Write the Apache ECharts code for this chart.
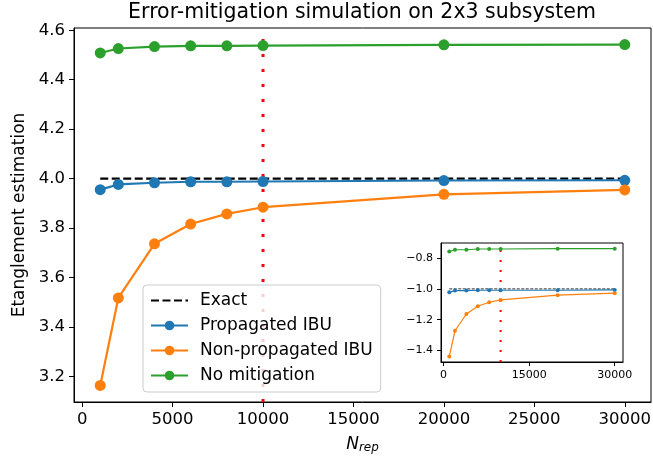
<!DOCTYPE html>
<html>
<head>
<meta charset="utf-8">
<script src="https://cdn.jsdelivr.net/npm/echarts@6/dist/echarts.min.js"></script>
<style>
  html, body { margin: 0; padding: 0; background: #fff; }
  #chart { width: 653px; height: 457px; }
</style>
</head>
<body>
<div id="chart"></div>
<script>
// Number of repetitions used in each simulation run
const nRep = [1000, 2000, 4000, 6000, 8000, 10000, 20000, 30000];

// Main panel: entanglement estimates
const exactValue = 4.0;
const propagatedIBU = [3.955, 3.976, 3.983, 3.987, 3.987, 3.988, 3.992, 3.993];
const nonPropagatedIBU = [3.163, 3.517, 3.736, 3.816, 3.857, 3.884, 3.936, 3.954];
const noMitigation = [4.508, 4.526, 4.534, 4.537, 4.537, 4.538, 4.541, 4.542];

// Inset panel: second quantity on the same runs
const insetExact = -1.0;
const insetPropagated = [-1.022, -1.011, -1.011, -1.009, -1.009, -1.009, -1.009, -1.007];
const insetNonPropagated = [-1.440, -1.272, -1.163, -1.113, -1.087, -1.072, -1.041, -1.028];
const insetNoMitigation = [-0.757, -0.746, -0.746, -0.741, -0.741, -0.741, -0.739, -0.739];

// Reference repetition count (vertical marker)
const cutoffRep = 10000;

// Tick labels
const mainXTicks = [0, 5000, 10000, 15000, 20000, 25000, 30000];
const mainYTicks = [3.2, 3.4, 3.6, 3.8, 4.0, 4.2, 4.4, 4.6];
const insetXTicks = [0, 15000, 30000];
const insetYTicks = [-1.4, -1.2, -1.0, -0.8];

// Axis ranges
const mainXRange = [-450, 31450];
const mainYRange = [3.096, 4.609];
const insetYRange = [-1.475, -0.702];

const C_BLUE = '#1f77b4', C_ORANGE = '#ff7f0e', C_GREEN = '#2ca02c';
const FONT = 'DejaVu Sans';

const pairs = (ys) => nRep.map((x, i) => [x, ys[i]]);
const minus = (s) => String(s).replace('-', '\u2212');

function valueAxis(gridIndex, range, ticks, fontSize, fmt, tickLen, extra) {
  return Object.assign({
    type: 'value', gridIndex, min: range[0], max: range[1],
    axisLine: { show: true, onZero: false, lineStyle: { color: '#000', width: 1 } },
    axisTick: { show: true, length: tickLen, customValues: ticks, lineStyle: { color: '#000', width: 1 } },
    axisLabel: { customValues: ticks, color: '#000', fontFamily: FONT, fontSize, formatter: fmt, margin: tickLen + 4, showMinLabel: true, showMaxLabel: true },
    splitLine: { show: false }
  }, extra || {});
}

function lineSeries(name, data, color, xi, yi, sym, lw, z) {
  return {
    name, type: 'line', xAxisIndex: xi, yAxisIndex: yi, data,
    symbol: 'circle', symbolSize: sym, showSymbol: true,
    lineStyle: { color, width: lw }, itemStyle: { color },
    animation: false, silent: true, z
  };
}

function exactSeries(name, value, xi, yi, lw, dash, color, z) {
  return {
    name, type: 'line', xAxisIndex: xi, yAxisIndex: yi,
    data: [[nRep[0], value], [nRep[nRep.length - 1], value]],
    symbol: 'none', lineStyle: { color, width: lw, type: dash },
    itemStyle: { color }, animation: false, silent: true, z
  };
}

// Vertical dotted marker spanning the full y range of a panel
function cutoffSeries(xi, yi, yRange, lw, dash, z) {
  return {
    type: 'line', xAxisIndex: xi, yAxisIndex: yi,
    data: [[cutoffRep, yRange[0]], [cutoffRep, yRange[1]]],
    symbol: 'none', lineStyle: { color: '#ff0000', width: lw, type: dash },
    animation: false, silent: true, z
  };
}

const chart = echarts.init(document.getElementById('chart'), null, { renderer: 'canvas' });
chart.setOption({
  backgroundColor: '#fff',
  animation: false,
  title: {
    text: 'Error-mitigation simulation on 2x3 subsystem',
    left: 357, top: -3, textAlign: 'center',
    textStyle: { fontFamily: FONT, fontSize: 20.5, fontWeight: 'normal', color: '#000' }
  },
  legend: {
    left: 143, top: 285, orient: 'vertical',
    itemWidth: 37, itemHeight: 12, itemGap: 8,
    padding: [7, 8, 8, 7],
    backgroundColor: 'rgba(255,255,255,0.8)', borderColor: '#cccccc', borderWidth: 1, borderRadius: 4,
    textStyle: { fontFamily: FONT, fontSize: 17, color: '#000', padding: [0, 0, 0, 7] },
    data: [
      { name: 'Exact', itemStyle: { opacity: 0 } },
      { name: 'Propagated IBU' },
      { name: 'Non-propagated IBU' },
      { name: 'No mitigation' }
    ],
    z: 10
  },
  grid: [
    { left: 74, right: 2, top: 28, bottom: 55, show: true, borderColor: '#000', borderWidth: 1, outerBoundsMode: 'none', containLabel: false },
    { left: 441, right: 30, top: 243, bottom: 95, show: true, borderColor: '#000', borderWidth: 1, backgroundColor: '#fff', z: 5, outerBoundsMode: 'none', containLabel: false }
  ],
  xAxis: [
    valueAxis(0, mainXRange, mainXTicks, 16.5, (v) => String(v), 5, {
      name: '{i|N}{s|rep}', nameLocation: 'middle', nameGap: 33,
      nameTextStyle: {
        rich: {
          i: { fontFamily: FONT, fontStyle: 'italic', fontSize: 17, color: '#000' },
          s: { fontFamily: FONT, fontStyle: 'italic', fontSize: 12, color: '#000', padding: [7, 0, 0, 0] }
        }
      }
    }),
    valueAxis(1, mainXRange, insetXTicks, 11, (v) => String(v), 4, { z: 6 })
  ],
  yAxis: [
    valueAxis(0, mainYRange, mainYTicks, 16.5, (v) => v.toFixed(1), 5, {
      name: 'Etanglement estimation', nameLocation: 'middle', nameGap: 45,
      nameTextStyle: { fontFamily: FONT, fontSize: 17, color: '#000' }
    }),
    valueAxis(1, insetYRange, insetYTicks, 11, (v) => minus(v.toFixed(1)), 4, { z: 6 })
  ],
  series: [
    cutoffSeries(0, 0, mainYRange, 3, [3, 12], 1),
    exactSeries('Exact', exactValue, 0, 0, 2.2, [8, 3.5], '#000', 2),
    lineSeries('Propagated IBU', pairs(propagatedIBU), C_BLUE, 0, 0, 11, 2.2, 3),
    lineSeries('Non-propagated IBU', pairs(nonPropagatedIBU), C_ORANGE, 0, 0, 11, 2.2, 3),
    lineSeries('No mitigation', pairs(noMitigation), C_GREEN, 0, 0, 11, 2.2, 3),

    cutoffSeries(1, 1, insetYRange, 2, [2, 8], 6),
    exactSeries('Exact', insetExact, 1, 1, 1, [3, 1.5], '#333', 6),
    lineSeries('Propagated IBU', pairs(insetPropagated), C_BLUE, 1, 1, 4, 1.2, 7),
    lineSeries('Non-propagated IBU', pairs(insetNonPropagated), C_ORANGE, 1, 1, 4, 1.2, 7),
    lineSeries('No mitigation', pairs(insetNoMitigation), C_GREEN, 1, 1, 4, 1.2, 7)
  ]
});
</script>
</body>
</html>
